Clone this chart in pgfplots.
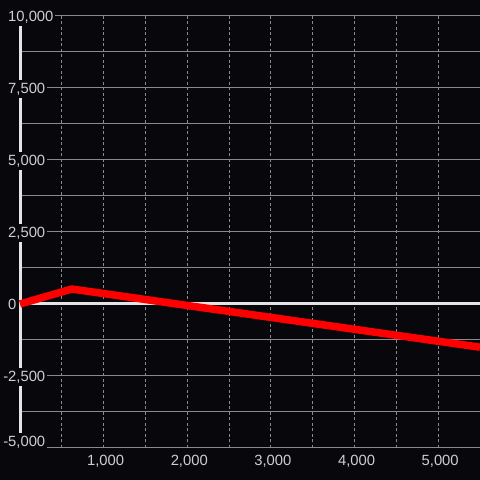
\documentclass[border=0pt]{standalone}
\usepackage{fontspec}
\setmainfont{Liberation Sans}
\usepackage{pgfplots}
\pgfplotsset{compat=1.18}
\definecolor{bg}{HTML}{08070B}
\definecolor{gridc}{HTML}{8A8A8A}
\definecolor{axc}{HTML}{E4E4E4}
\definecolor{labc}{HTML}{CFCFCF}
\pgfplotsset{
  layers/mylayers/.define layer set={
    axis background,axis grid,pre main,main,axis ticks,axis lines,axis tick labels,axis descriptions,axis foreground
  }{
    grid style={/pgfplots/on layer=axis grid},
    tick style={/pgfplots/on layer=axis ticks},
    axis line style={/pgfplots/on layer=axis lines},
    label style={/pgfplots/on layer=axis descriptions},
    legend style={/pgfplots/on layer=axis descriptions},
    title style={/pgfplots/on layer=axis descriptions},
    colorbar style={/pgfplots/on layer=axis descriptions},
    ticklabel style={/pgfplots/on layer=axis tick labels},
    axis background@ style={/pgfplots/on layer=axis background},
    3d box foreground style={/pgfplots/on layer=axis foreground},
  },
}
\begin{document}
\begin{tikzpicture}
\begin{axis}[
  set layers=mylayers,
  at={(20bp,32bp)}, anchor=south west,
  scale only axis, width=460bp, height=432bp,
  xmin=0, xmax=5500, ymin=-5000, ymax=10000,
  clip=false, scaled ticks=false,
  axis line style={draw=none},
  major tick length=0pt, minor tick length=0pt,
  xtick={1000,2000,3000,4000,5000},
  xticklabels={{1,000},{2,000},{3,000},{4,000},{5,000}},
  minor xtick={500,1500,2500,3500,4500},
  ytick={-5000,-2500,0,2500,5000,7500,10000},
  yticklabels={{},{\llap{-}2,500},0,{2,500},{5,000},{7,500},{10,000}},
  extra y ticks={-4760},
  extra y tick labels={\llap{-}5{,}000},
  extra y tick style={grid=none},
  minor ytick={-3750,-1250,1250,3750,6250,8750},
  xmajorgrids, xminorgrids, ymajorgrids, yminorgrids,
  major x grid style={gridc, line width=1bp, dash pattern=on 3bp off 2.5bp},
  minor x grid style={gridc, line width=1bp, dash pattern=on 3bp off 2.5bp},
  major y grid style={gridc, line width=1bp, solid},
  minor y grid style={gridc, line width=1bp, solid},
  ticklabel style={font=\fontsize{14.8bp}{16bp}\selectfont, text=labc},
  yticklabel style={anchor=west, xshift=-14bp, yshift=-1bp, fill=bg, inner xsep=2bp, inner ysep=2.5bp, text height=11bp, text depth=2bp},
  xticklabel style={yshift=-4bp, xshift=2bp},
]
\begin{pgfonlayer}{axis background}
\fill[bg] ([xshift=-20bp,yshift=-32bp]rel axis cs:0,0) rectangle ([yshift=16bp]rel axis cs:1,1);
\end{pgfonlayer}
\addplot[axc, line width=3bp] coordinates {(0,0) (5500,0)};
\addplot[axc, line width=3bp] coordinates {(0,-5000) (0,10000)};
\addplot[red, line width=7.5bp, line join=round] coordinates {(0,0) (620,520) (5500,-1500)};
\end{axis}
\pgfresetboundingbox
\useasboundingbox (0,0) rectangle (480bp,480bp);
\end{tikzpicture}
\end{document}
